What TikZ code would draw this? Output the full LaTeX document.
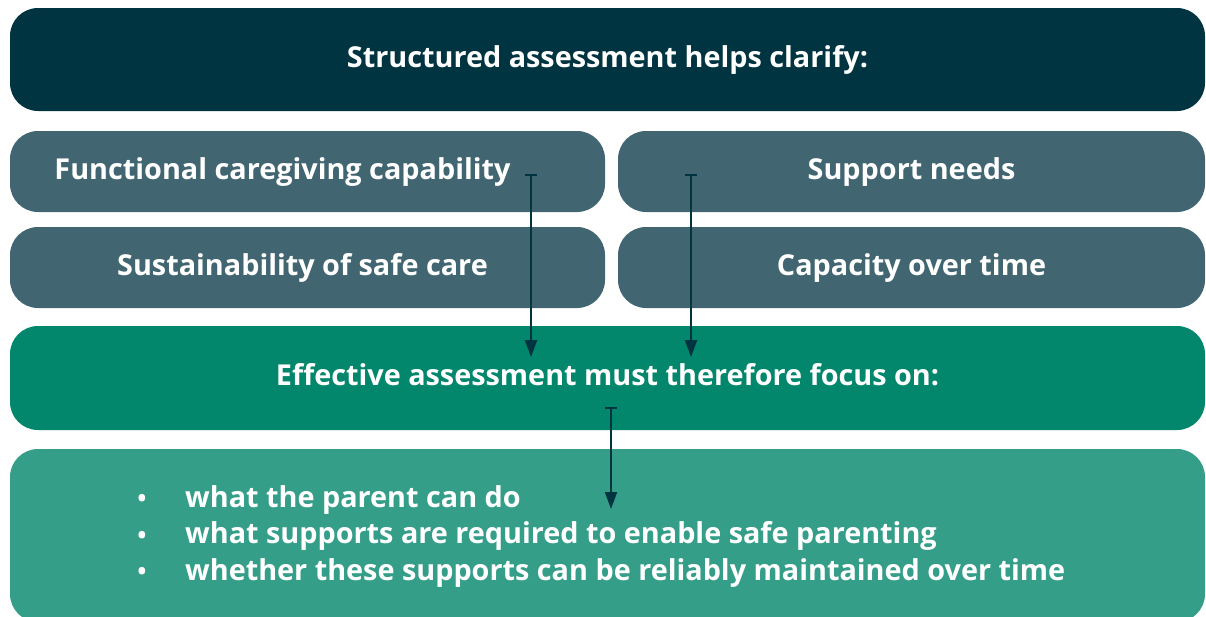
\documentclass[tikz,border=0pt]{standalone}
\usepackage{fontspec}
\setmainfont{Open Sans}
\usetikzlibrary{arrows.meta,positioning}

\definecolor{headbg}{HTML}{013441}
\definecolor{itembg}{HTML}{426671}
\definecolor{focusbg}{HTML}{02876C}
\definecolor{listbg}{HTML}{359E89}

\begin{document}
\begin{tikzpicture}[x=1pt,y=-1pt,
  words/.style={text=white,font=\bfseries\fontsize{28.8}{34}\selectfont,text height=21pt,text depth=6pt},
  band/.style={words,rounded corners=28pt,inner sep=0pt},
  item/.style={band,fill=itembg,minimum height=81pt},
  link/.style={{Bar[width=12pt]}-{Triangle[length=17pt,width=12pt]},line width=2pt,draw=headbg}]
\useasboundingbox (0,0) rectangle (1206,616);
% header and the four findings
\node[band,fill=headbg,minimum width=1195pt,minimum height=103pt] (head) at (607.5,59.5) {Structured assessment helps clarify:};
\node[item,minimum width=595pt,label={[words,xshift=-25pt]center:Functional caregiving capability}] (func) at (307.5,171.5) {};
\node[item,minimum width=587pt] (needs) at (911.5,171.5) {Support needs};
\node[item,minimum width=595pt,label={[words,xshift=-5pt]center:Sustainability of safe care}] (sust) at (307.5,267.5) {};
\node[item,minimum width=587pt] (capa) at (911.5,267.5) {Capacity over time};
% focus band and the list
\node[band,fill=focusbg,minimum width=1195pt,minimum height=104pt] (focus) at (607.5,378) {Effective assessment must therefore focus on:};
\node[band,fill=listbg,minimum width=1195pt,minimum height=173pt] (list) at (607.5,535.5) {};
\foreach \txt [count=\i from 0] in {what the parent can do,what supports are required to enable safe parenting,whether these supports can be reliably maintained over time}{
  \node[text=white,font=\fontsize{31}{33}\selectfont,inner sep=0pt] (dot\i) at (142,502+36.5*\i) {•};
  \node[words,anchor=base west,inner sep=0pt,text height=,text depth=] (line\i) at (185,507+36.5*\i) {\txt};
}
% arrows
\coordinate (t1) at (531,174);
\coordinate (h1) at (531,357);
\coordinate (t2) at (691,174);
\coordinate (h2) at (691,357);
\coordinate (t3) at (611,407);
\coordinate (h3) at (611,509);
\draw[link] (t1) -- (h1);
\draw[link] (t2) -- (h2);
\draw[link] (t3) -- (h3);
\end{tikzpicture}
\end{document}
